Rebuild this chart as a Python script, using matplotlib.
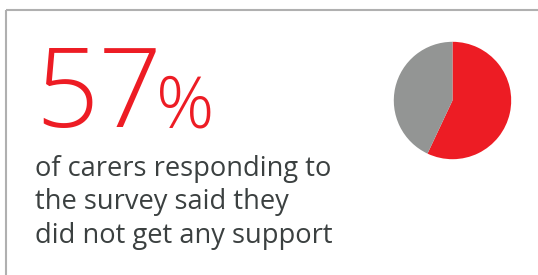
import matplotlib
matplotlib.use('Agg')
from matplotlib import pyplot as plt

# values
share_no_support = 57
share_other = 100 - share_no_support
big_number = '57'
big_sign = '%'
caption_lines = ['of carers responding to',
                 'the survey said they',
                 'did not get any support']

RED = '#ed1c24'
GREY = '#939594'
TEXT = '#3b4040'
W, H = 538, 275

fig = plt.figure(figsize=(W / 100, H / 100), dpi=100)
fig.patch.set_facecolor('white')

# full-figure axes in pixel units for the text and the frame
ax = fig.add_axes([0, 0, 1, 1])
ax.set_xlim(0, W)
ax.set_ylim(H, 0)
ax.axis('off')

ax.plot([5.5, 5.5], [H, 9.5], color='#b0b0b0', lw=1.5, solid_capstyle='butt')
ax.plot([5.5, W], [9.5, 9.5], color='#b0b0b0', lw=1.5, solid_capstyle='butt')

ax.text(35, 127, big_number, color=RED, fontsize=80, family='Open Sans',
        fontweight='light', va='baseline', ha='left')
ax.text(156, 127, big_sign, color=RED, fontsize=52, family='Open Sans',
        fontweight='light', va='baseline', ha='left')

for i, line in enumerate(caption_lines):
    ax.text(35, 176 + i * 33.4, line, color=TEXT, fontsize=19.6,
            family='Open Sans', va='baseline', ha='left')

# pie
cx, cy, r = 452.5, 100.5, 58.7
pax = fig.add_axes([(cx - r) / W, (H - cy - r) / H, 2 * r / W, 2 * r / H])
pax.pie([share_no_support, share_other], colors=[RED, GREY],
        startangle=90, counterclock=False, radius=1,
        wedgeprops=dict(linewidth=0))
pax.set_xlim(-1, 1)
pax.set_ylim(-1, 1)
pax.set_aspect('equal')
pax.axis('off')

plt.savefig('out.png', dpi=100)
